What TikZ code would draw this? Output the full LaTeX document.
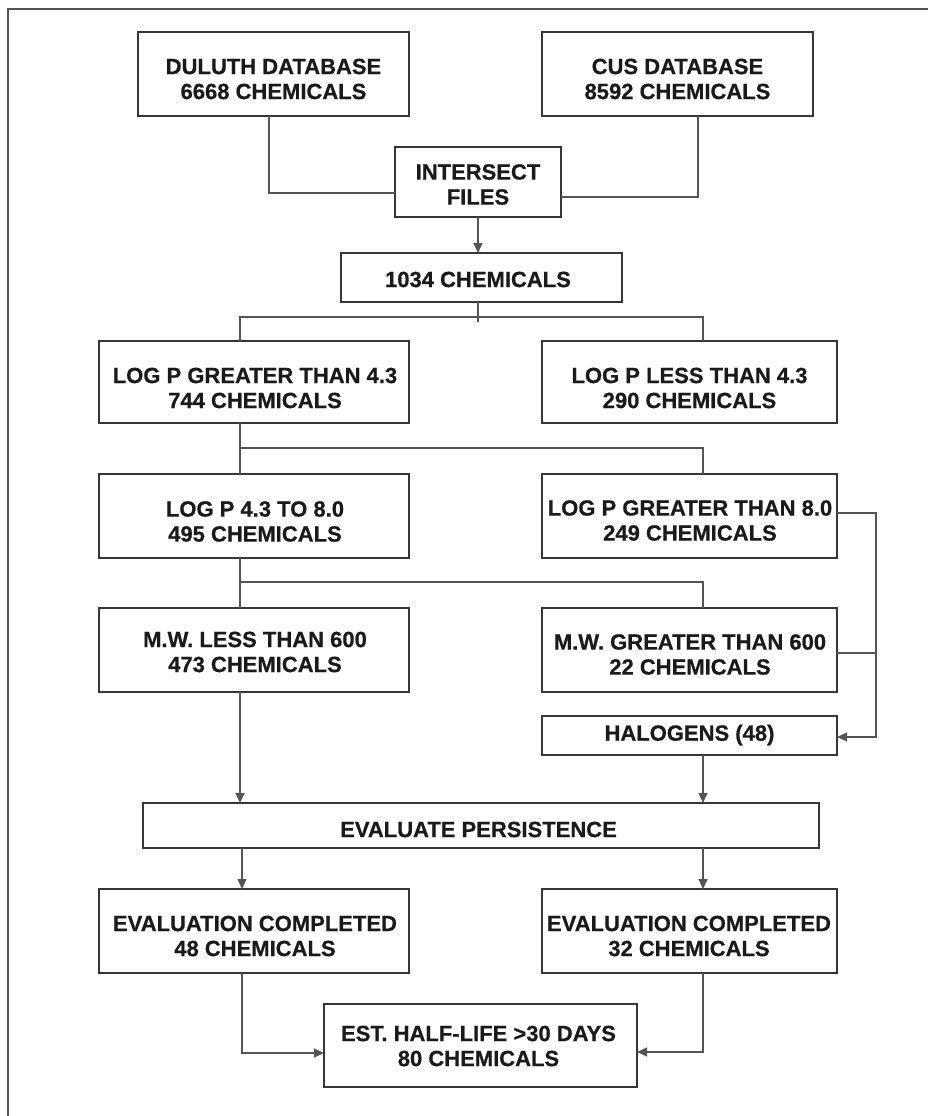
\documentclass[tikz,border=0pt]{standalone}
\usepackage{fontspec}
\setmainfont{Liberation Sans}[BoldFeatures={FakeBold=0.6}]
\usetikzlibrary{arrows.meta}
\definecolor{ink}{HTML}{1A1A1A}
\definecolor{boxline}{HTML}{363636}
\definecolor{wire}{HTML}{555555}
\tikzset{
  box/.style={draw=boxline, line width=1.3pt, rectangle, inner sep=0pt, outer sep=0pt},
  lbl/.style={text=ink, align=center, inner sep=0pt, outer sep=0pt,
              font=\fontsize{22}{25}\selectfont\bfseries},
  link/.style={draw=wire, line width=1.2pt},
  arr/.style={link, -{Triangle[length=10pt,width=9pt]}},
}
\begin{document}
\begin{tikzpicture}[x=1pt, y=-1pt]
\useasboundingbox (0,0) rectangle (928,1116);
% page frame (top and left rules)
\draw[wire, line width=1.2pt] (928,9) -- (8,9) -- (8,1116);

% boxes
\node[box, minimum width=271pt, minimum height=84pt] (dul)   at (273.5,74)   {};
\node[box, minimum width=271pt, minimum height=84pt] (cus)   at (677.5,74)   {};
\node[box, minimum width=166pt, minimum height=70pt] (inter) at (478,182)    {};
\node[box, minimum width=281pt, minimum height=49pt] (n1034) at (481.5,277.5){};
\node[box, minimum width=310pt, minimum height=82pt] (gt43)  at (254,382)    {};
\node[box, minimum width=295pt, minimum height=82pt] (lt43)  at (689.5,382)  {};
\node[box, minimum width=310pt, minimum height=84pt] (r48)   at (254,516)    {};
\node[box, minimum width=295pt, minimum height=84pt] (gt80)  at (689.5,516)  {};
\node[box, minimum width=310pt, minimum height=84pt] (mwlt)  at (254,650)    {};
\node[box, minimum width=295pt, minimum height=84pt] (mwgt)  at (689.5,650)  {};
\node[box, minimum width=295pt, minimum height=39pt] (hal)   at (689.5,735.5){};
\node[box, minimum width=676pt, minimum height=45pt] (eval)  at (481,825.5)  {};
\node[box, minimum width=310pt, minimum height=84pt] (ec48)  at (254,931)    {};
\node[box, minimum width=295pt, minimum height=84pt] (ec32)  at (689.5,931)  {};
\node[box, minimum width=313pt, minimum height=83pt] (est)   at (480.5,1045.5){};

% box texts
\node[lbl] (dulT)   at (273.5,79)  {DULUTH DATABASE\\6668 CHEMICALS};
\node[lbl] (cusT)   at (677.5,79)  {CUS DATABASE\\8592 CHEMICALS};
\node[lbl] (interT) at (478,184.5) {INTERSECT\\FILES};
\node[lbl] (n1034T) at (478,279.5) {1034 CHEMICALS};
\node[lbl] (gt43T)  at (255,388)   {LOG P GREATER THAN 4.3\\744 CHEMICALS};
\node[lbl] (lt43T)  at (689.5,388) {LOG P LESS THAN 4.3\\290 CHEMICALS};
\node[lbl] (r48T)   at (255,521.5) {LOG P 4.3 TO 8.0\\495 CHEMICALS};
\node[lbl] (gt80T)  at (690,520.5) {LOG P GREATER THAN 8.0\\249 CHEMICALS};
\node[lbl] (mwltT)  at (255,652)   {M.W. LESS THAN 600\\473 CHEMICALS};
\node[lbl] (mwgtT)  at (690,654.5) {M.W. GREATER THAN 600\\22 CHEMICALS};
\node[lbl] (halT)   at (689.5,735) {HALOGENS (48)};
\node[lbl] (evalT)  at (478.5,829.5) {EVALUATE PERSISTENCE};
\node[lbl] (ec48T)  at (255,936)   {EVALUATION COMPLETED\\48 CHEMICALS};
\node[lbl] (ec32T)  at (689,936)   {EVALUATION COMPLETED\\32 CHEMICALS};
\node[lbl] (estT)   at (478.5,1046) {EST. HALF-LIFE >30 DAYS\\80 CHEMICALS};

% branch points
\coordinate (b1)  at (240,317);  \coordinate (b1r) at (703,317);
\coordinate (b2)  at (240,448);  \coordinate (b2r) at (703,448);
\coordinate (b3)  at (240,582);  \coordinate (b3r) at (703,582);
\coordinate (railT) at (876,513); \coordinate (railB) at (876,737);
\coordinate (colL) at (242,0);   \coordinate (colR) at (703,0);

% merge of the two databases
\draw[link] ([xshift=-4.5pt]dul.south) |- ([yshift=-11pt]inter.west);
\draw[link] ([xshift=20.5pt]cus.south) |- ([yshift=-15pt]inter.east);
\draw[arr] (inter.south) -- (inter.south |- n1034.north);

% first split on log P
\draw[link] ([xshift=-3.5pt]n1034.south) -- ([xshift=-3.5pt,yshift=-20pt]n1034.south);
\draw[link] (gt43.north -| b1) -- (b1) -- (b1r) -- (lt43.north -| b1r);

% second split on log P
\draw[link] (gt43.south -| b2) -- (r48.north -| b2);
\draw[link] (b2) -- (b2r) -- (gt80.north -| b2r);

% split on molecular weight
\draw[link] (r48.south -| b3) -- (mwlt.north -| b3);
\draw[link] (b3) -- (b3r) -- (mwgt.north -| b3r);

% side rail to halogens
\draw[arr] ([yshift=3pt]gt80.east) -- (railT) -- (railB) -- (hal.east |- railB);
\draw[link] ([yshift=-3pt]mwgt.east) -- ([yshift=-3pt]mwgt.east -| railT);

% into persistence evaluation
\draw[arr] (mwlt.south -| b3) -- (eval.north -| b3);
\draw[arr] (hal.south -| b3r) -- (eval.north -| b3r);
\draw[arr] (eval.south -| colL) -- (ec48.north -| colL);
\draw[arr] (eval.south -| colR) -- (ec32.north -| colR);

% final result
\draw[arr] (ec48.south -| colL) |- ([yshift=-7.5pt]est.west);
\draw[arr] (ec32.south -| colR) |- ([yshift=-6.5pt]est.east);
\end{tikzpicture}
\end{document}
